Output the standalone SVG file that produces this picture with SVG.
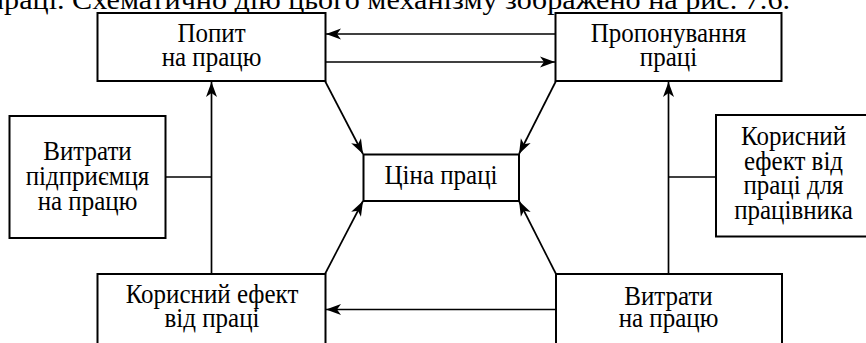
<svg xmlns="http://www.w3.org/2000/svg" width="866" height="343" viewBox="0 0 866 343" font-family="Liberation Serif, serif" font-size="25">
<defs>
<style>
.box{fill:#fff;stroke:#000;stroke-width:2}
.ln{fill:none;stroke:#000;stroke-width:1.7}
.t{text-anchor:middle;fill:#000}
</style>
<marker id="ah" markerUnits="userSpaceOnUse" markerWidth="16" markerHeight="12" refX="15" refY="6" orient="auto">
<path d="M0,0.5 L15,6 L0,11.5 L4,6 Z" fill="#000"/>
</marker>
</defs>
<rect width="866" height="343" fill="#fff"/>
<text transform="translate(-12,8.7) scale(1,1.12)" x="0" y="0" textLength="802" lengthAdjust="spacingAndGlyphs">праці. Схематично дію цього механізму зображено на рис. 7.6.</text>
<g id="connectors">
<line class="ln" x1="556" y1="34" x2="326" y2="34" marker-end="url(#ah)"/>
<line class="ln" x1="325" y1="62" x2="555" y2="62" marker-end="url(#ah)"/>
<line class="ln" x1="211.5" y1="274" x2="211.5" y2="82" marker-end="url(#ah)"/>
<line class="ln" x1="166" y1="177" x2="211.5" y2="177"/>
<line class="ln" x1="668.5" y1="274" x2="668.5" y2="82" marker-end="url(#ah)"/>
<line class="ln" x1="668.5" y1="177" x2="716" y2="177"/>
<line class="ln" x1="325" y1="81" x2="363" y2="154" marker-end="url(#ah)"/>
<line class="ln" x1="556" y1="81" x2="519" y2="154" marker-end="url(#ah)"/>
<line class="ln" x1="325" y1="274" x2="363" y2="201" marker-end="url(#ah)"/>
<line class="ln" x1="556" y1="274" x2="519" y2="201" marker-end="url(#ah)"/>
<line class="ln" x1="556" y1="309.5" x2="326" y2="309.5" marker-end="url(#ah)"/>
</g>
<g id="node-popyt">
<rect class="box" x="97.5" y="13" width="228" height="68"/>
<text class="t" transform="translate(211.5,42) scale(1,1.12)">Попит</text>
<text class="t" transform="translate(211.5,65.5) scale(1,1.12)">на працю</text>
</g>
<g id="node-proponuvannia">
<rect class="box" x="555.5" y="13" width="226" height="68"/>
<text class="t" transform="translate(668.5,42) scale(1,1.12)">Пропонування</text>
<text class="t" transform="translate(668.5,65.5) scale(1,1.12)">праці</text>
</g>
<g id="node-tsina">
<rect class="box" x="363.5" y="154.5" width="155.5" height="46.5"/>
<text class="t" transform="translate(441,184) scale(1,1.12)">Ціна праці</text>
</g>
<g id="node-vytraty-pidpryiemtsia">
<rect class="box" x="9.5" y="116" width="156" height="122"/>
<text class="t" transform="translate(87.5,160) scale(1,1.12)">Витрати</text>
<text class="t" transform="translate(87.5,185) scale(1,1.12)">підприємця</text>
<text class="t" transform="translate(87.5,210) scale(1,1.12)">на працю</text>
</g>
<g id="node-korysnyi-pratsivnyk">
<rect class="box" x="716" y="115" width="155" height="121.5"/>
<text class="t" transform="translate(793.5,145) scale(1,1.12)">Корисний</text>
<text class="t" transform="translate(793.5,169.5) scale(1,1.12)">ефект від</text>
<text class="t" transform="translate(793.5,194) scale(1,1.12)">праці для</text>
<text class="t" transform="translate(793.5,218.5) scale(1,1.12)">працівника</text>
</g>
<g id="node-korysnyi-efekt">
<rect class="box" x="97.5" y="274" width="228" height="75"/>
<text class="t" transform="translate(212,303) scale(1,1.12)">Корисний ефект</text>
<text class="t" transform="translate(212,327) scale(1,1.12)">від праці</text>
</g>
<g id="node-vytraty-pratsiu">
<rect class="box" x="556" y="274" width="226" height="75"/>
<text class="t" transform="translate(668.5,304.5) scale(1,1.12)">Витрати</text>
<text class="t" transform="translate(668.5,327) scale(1,1.12)">на працю</text>
</g>
</svg>
